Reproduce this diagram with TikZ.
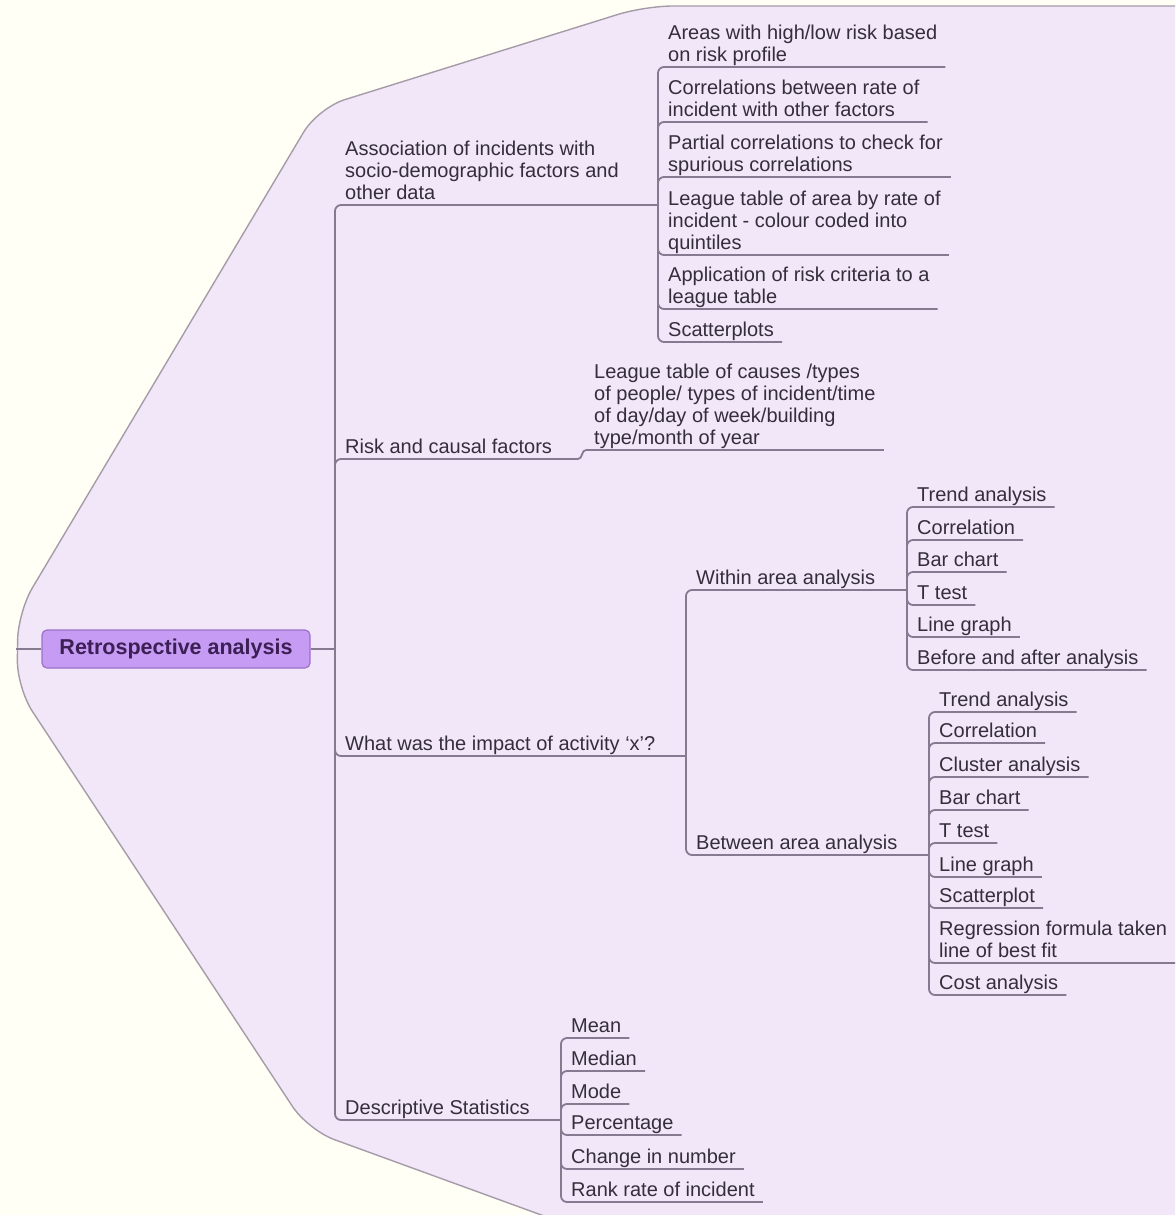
\documentclass[tikz,border=0pt]{standalone}
\usepackage{fontspec}
\setmainfont{Liberation Sans}
\usetikzlibrary{calc}
\definecolor{mmpaper}{HTML}{FFFFF6}
\definecolor{mmlav}{HTML}{F2E6F9}
\definecolor{mmedge}{HTML}{A59CA8}
\definecolor{mmline}{HTML}{857A8F}
\definecolor{mmtext}{HTML}{342E3A}
\definecolor{mmrootfill}{HTML}{C69BF3}
\definecolor{mmrootdraw}{HTML}{9C72C9}
\definecolor{mmroottext}{HTML}{3B1F55}
\newcommand{\mmstrut}{\rule[-5pt]{0pt}{15pt}}
\tikzset{
  mmbranch/.style={draw=mmline, line width=1.8pt, rounded corners=6pt},
  mmelbow/.style={to path={|- (\tikztotarget)}},
  mmtopic/.style={anchor=south west, align=left, inner xsep=8pt, inner ysep=0pt,
    text=mmtext, font=\fontsize{20}{22}\selectfont, execute at end node=\mmstrut},
  mmroot/.style={rectangle, rounded corners=5pt, fill=mmrootfill, draw=mmrootdraw,
    line width=1.2pt, minimum width=268pt, minimum height=38pt, inner sep=0pt,
    text=mmroottext, font=\fontsize{21.5}{26}\selectfont\bfseries},
}
\begin{document}
\begin{tikzpicture}[x=1pt, y=-1pt]
  \useasboundingbox (0,0) rectangle (1175,1215);
  \clip (0,0) rectangle (1175,1215);
  \fill[mmpaper] (0,0) rectangle (1175,1215);
  % Lavender map area.
  \filldraw[fill=mmlav, draw=mmedge, line width=1.4pt, rounded corners=28pt]
    (1220,6) -- (645,6) -- (318,108) -- (18,612) -- (17,688) -- (308,1130)
    -- (610,1240) -- (1220,1240) -- cycle;

  % Root.
  \node[mmroot] (root) at (176,649) {Retrospective analysis};
  \coordinate (rootL) at (16,649);
  \coordinate (trunk) at (335,649);

  % Level-one topics.
  \node[mmtopic] (assoc) at (337,205) {Association of incidents with\\socio-demographic factors and\\other data};
  \node[mmtopic] (risk) at (337,459) {Risk and causal factors};
  \node[mmtopic] (impact) at (337,756) {What was the impact of activity `x'?};
  \node[mmtopic] (desc) at (337,1120) {Descriptive Statistics};
  \coordinate (assocJ) at (658,205);
  \coordinate (riskJ) at (578,459);
  \coordinate (impactJ) at (686,756);
  \coordinate (descJ) at (561,1120);

  % Association children.
  \node[mmtopic] (a1) at (660,67) {Areas with high/low risk based\\on risk profile};
  \node[mmtopic] (a2) at (660,122) {Correlations between rate of\\incident with other factors};
  \node[mmtopic] (a3) at (660,177) {Partial correlations to check for\\spurious correlations};
  \node[mmtopic] (a4) at (660,255) {League table of area by rate of\\incident - colour coded into\\quintiles};
  \node[mmtopic] (a5) at (660,309) {Application of risk criteria to a\\league table};
  \node[mmtopic] (a6) at (660,342) {Scatterplots};

  % Risk child.
  \node[mmtopic] (causes) at (586,450) {League table of causes /types\\of people/ types of incident/time\\of day/day of week/building\\type/month of year};

  % Impact children.
  \node[mmtopic] (within) at (688,590) {Within area analysis};
  \node[mmtopic] (between) at (688,855) {Between area analysis};
  \coordinate (withinJ) at (907,590);
  \coordinate (betweenJ) at (929,855);

  \node[mmtopic] (w1) at (909,507) {Trend analysis};
  \node[mmtopic] (w2) at (909,540) {Correlation};
  \node[mmtopic] (w3) at (909,572) {Bar chart};
  \node[mmtopic] (w4) at (909,605) {T test};
  \node[mmtopic] (w5) at (909,637) {Line graph};
  \node[mmtopic] (w6) at (909,670) {Before and after analysis};

  \node[mmtopic] (b1) at (931,712) {Trend analysis};
  \node[mmtopic] (b2) at (931,743) {Correlation};
  \node[mmtopic] (b3) at (931,777) {Cluster analysis};
  \node[mmtopic] (b4) at (931,810) {Bar chart};
  \node[mmtopic] (b5) at (931,843) {T test};
  \node[mmtopic] (b6) at (931,877) {Line graph};
  \node[mmtopic] (b7) at (931,908) {Scatterplot};
  \node[mmtopic] (b8) at (931,963) {Regression formula taken\\line of best fit};
  \node[mmtopic] (b9) at (931,995) {Cost analysis};

  % Descriptive children.
  \node[mmtopic] (d1) at (563,1038) {Mean};
  \node[mmtopic] (d2) at (563,1071) {Median};
  \node[mmtopic] (d3) at (563,1104) {Mode};
  \node[mmtopic] (d4) at (563,1135) {Percentage};
  \node[mmtopic] (d5) at (563,1169) {Change in number};
  \node[mmtopic] (d6) at (563,1202) {Rank rate of incident};

  % Branches.
  \path[mmbranch]
    (rootL) edge (root)
    (root) edge (trunk)
    (trunk) edge[mmelbow] (assocJ)
    (trunk) edge[mmelbow] (riskJ)
    (trunk) edge[mmelbow] (impactJ)
    (trunk) edge[mmelbow] (descJ)
    (assocJ) edge[mmelbow] (a1.south east)
    (assocJ) edge[mmelbow] (a2.south east)
    (assocJ) edge[mmelbow] (a3.south east)
    (assocJ) edge[mmelbow] (a4.south east)
    (assocJ) edge[mmelbow] (a5.south east)
    (assocJ) edge[mmelbow] (a6.south east)
    (riskJ) edge[out=0, in=180] (causes.south west)
    (causes.south west) edge (causes.south east)
    (impactJ) edge[mmelbow] (withinJ)
    (impactJ) edge[mmelbow] (betweenJ)
    (withinJ) edge[mmelbow] (w1.south east)
    (withinJ) edge[mmelbow] (w2.south east)
    (withinJ) edge[mmelbow] (w3.south east)
    (withinJ) edge[mmelbow] (w4.south east)
    (withinJ) edge[mmelbow] (w5.south east)
    (withinJ) edge[mmelbow] (w6.south east)
    (betweenJ) edge[mmelbow] (b1.south east)
    (betweenJ) edge[mmelbow] (b2.south east)
    (betweenJ) edge[mmelbow] (b3.south east)
    (betweenJ) edge[mmelbow] (b4.south east)
    (betweenJ) edge[mmelbow] (b5.south east)
    (betweenJ) edge[mmelbow] (b6.south east)
    (betweenJ) edge[mmelbow] (b7.south east)
    (betweenJ) edge[mmelbow] (b8.south east)
    (betweenJ) edge[mmelbow] (b9.south east)
    (descJ) edge[mmelbow] (d1.south east)
    (descJ) edge[mmelbow] (d2.south east)
    (descJ) edge[mmelbow] (d3.south east)
    (descJ) edge[mmelbow] (d4.south east)
    (descJ) edge[mmelbow] (d5.south east)
    (descJ) edge[mmelbow] (d6.south east);
\end{tikzpicture}
\end{document}
